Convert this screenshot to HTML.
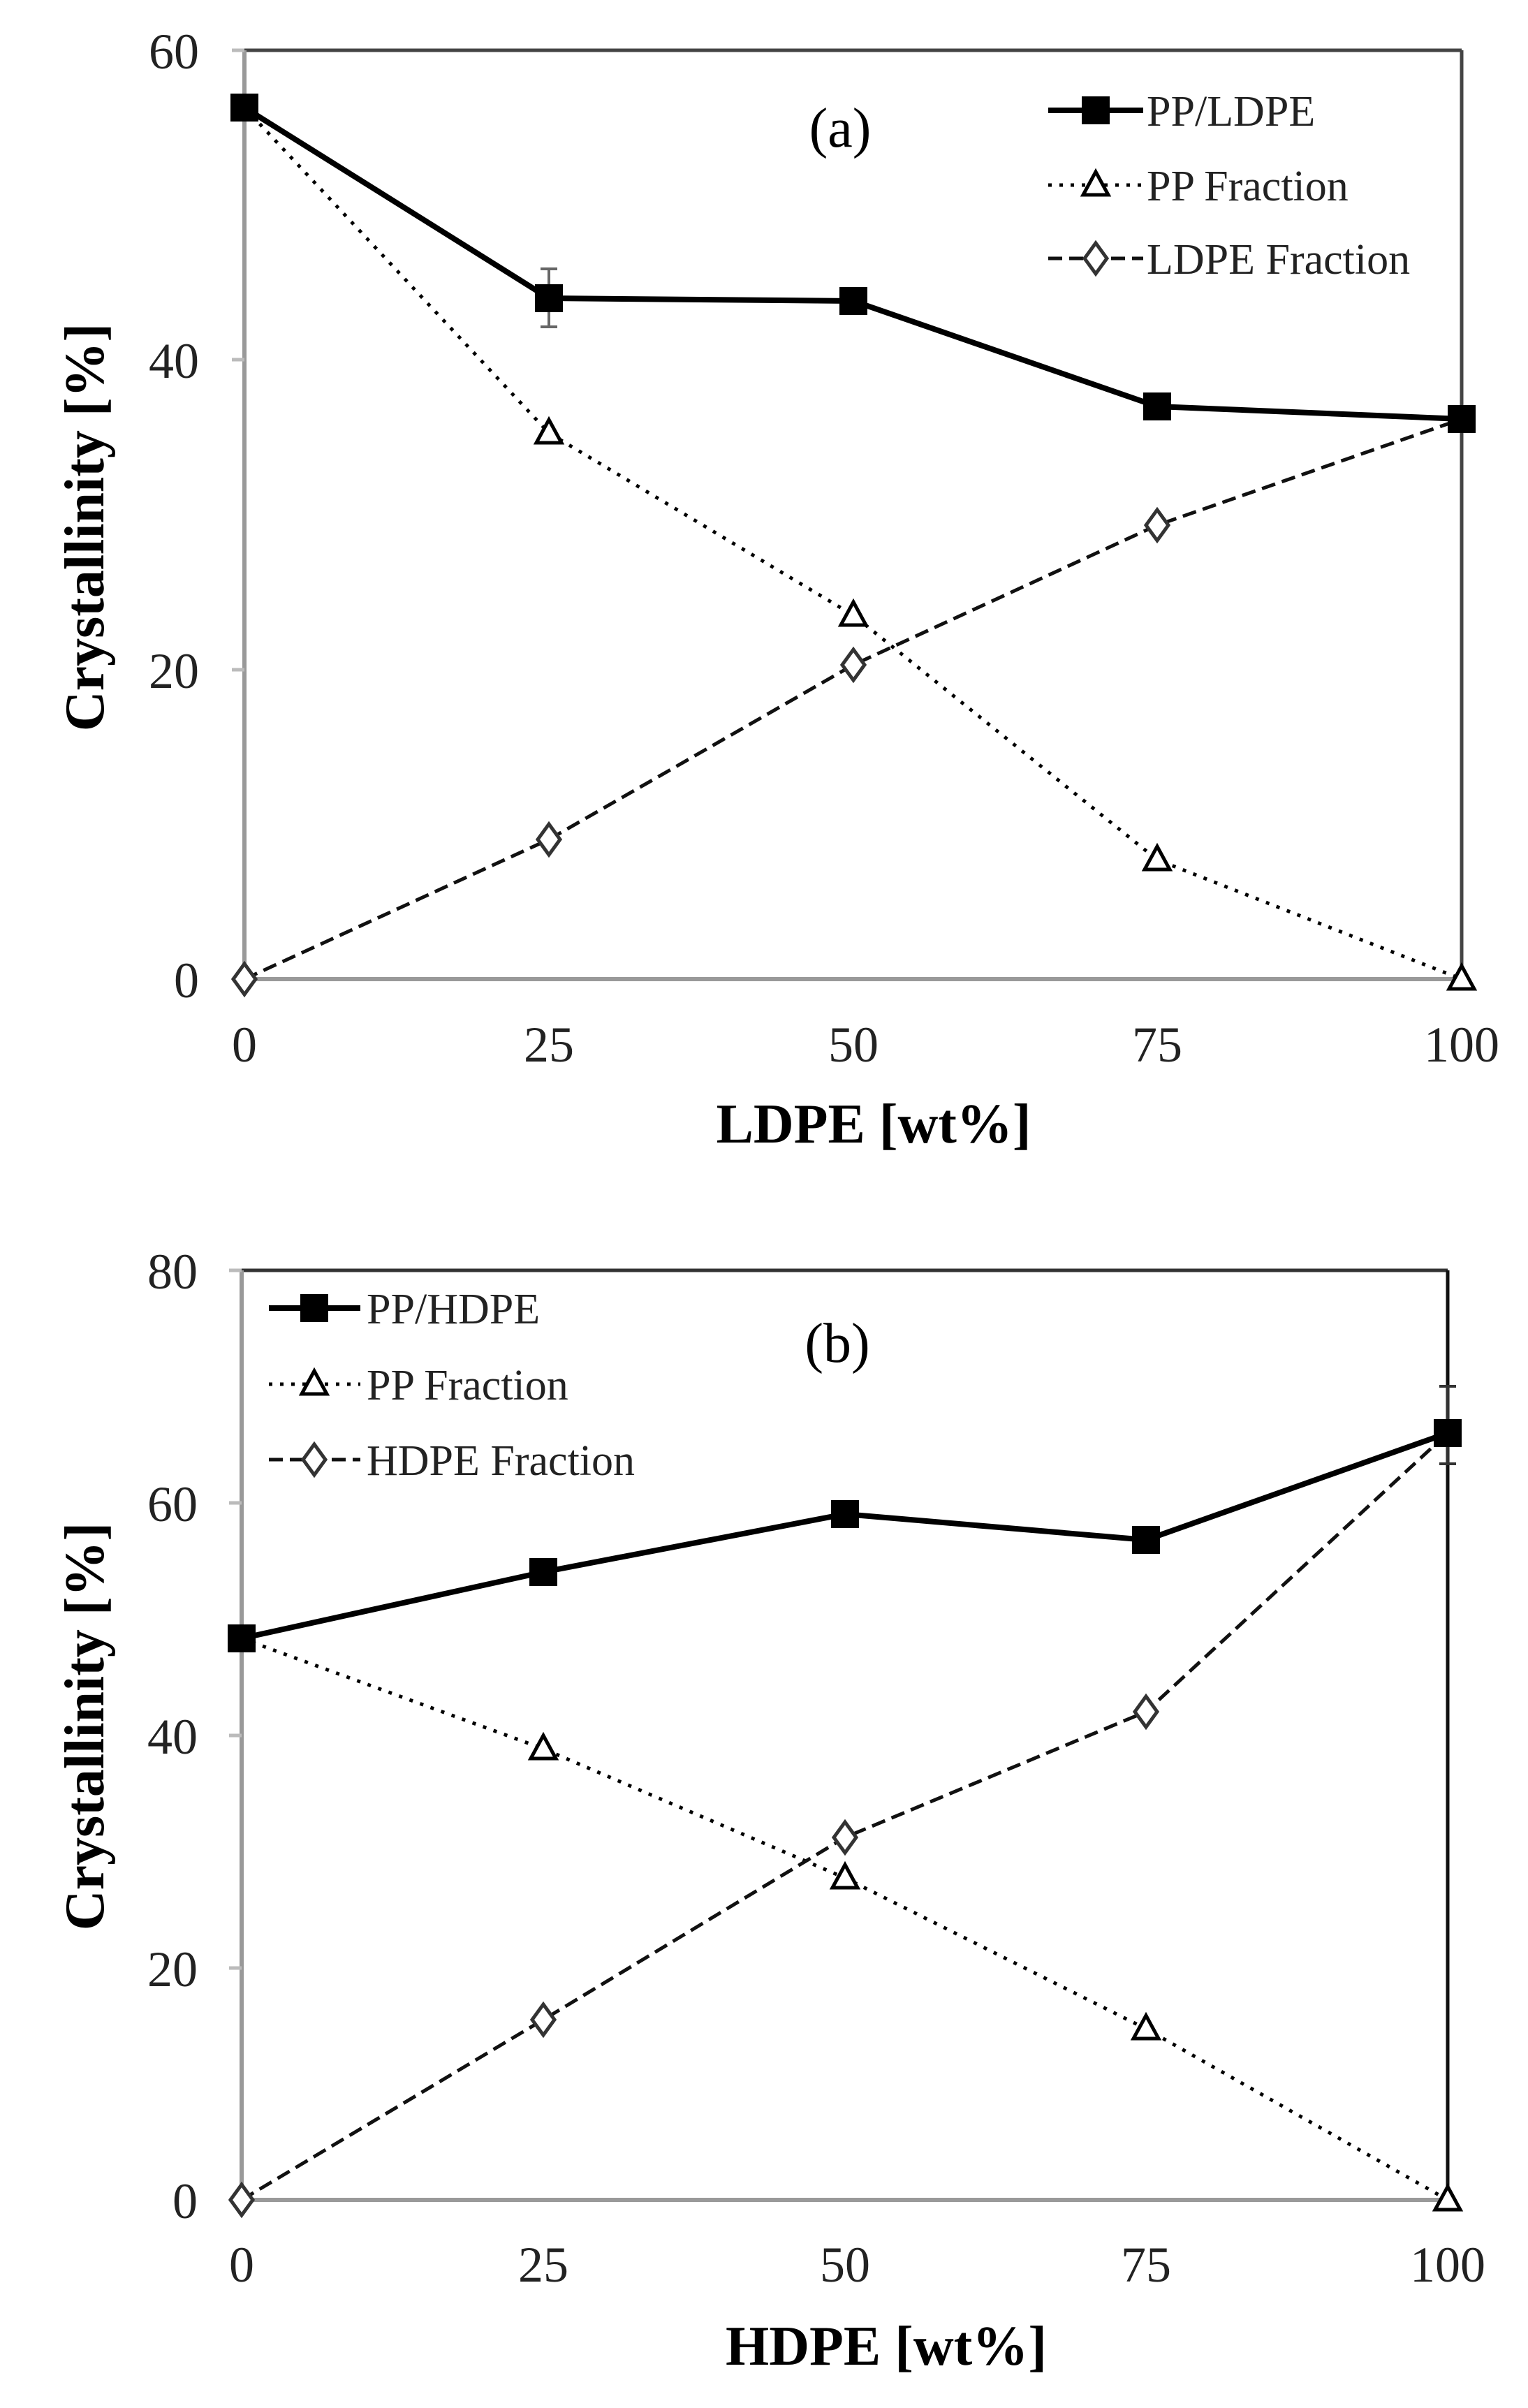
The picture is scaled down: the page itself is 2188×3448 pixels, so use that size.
<!DOCTYPE html>
<html><head><meta charset="utf-8"><style>html,body{margin:0;padding:0;background:#fff}svg{display:block}</style></head>
<body>
<svg width="2188" height="3448" viewBox="0 0 2188 3448" xmlns="http://www.w3.org/2000/svg" font-family="'Liberation Serif', serif">
<defs>
<g id="sq"><rect x="-20" y="-20" width="40" height="40" fill="#000"/></g>
<g id="tri"><polygon points="0,-19 18,14 -18,14" fill="#fff" stroke="#000" stroke-width="5"/></g>
<g id="dia"><polygon points="0,-22 16,0 0,22 -16,0" fill="#fff" stroke="#333" stroke-width="5"/></g>
</defs>

<!-- ===== Chart (a) ===== -->
<g>
<line x1="350" y1="72" x2="2093" y2="72" stroke="#444" stroke-width="5"/>
<line x1="2093" y1="72" x2="2093" y2="1402" stroke="#444" stroke-width="5"/>
<line x1="350" y1="72" x2="350" y2="1402" stroke="#999" stroke-width="6"/>
<line x1="350" y1="1402" x2="2093" y2="1402" stroke="#999" stroke-width="6"/>
<g stroke="#bbb" stroke-width="5"><line x1="332" y1="72" x2="350" y2="72"/><line x1="332" y1="515" x2="350" y2="515"/><line x1="332" y1="959" x2="350" y2="959"/><line x1="332" y1="1402" x2="350" y2="1402"/></g>
<g font-size="72" text-anchor="end" fill="#222">
<text x="285" y="98">60</text><text x="285" y="541">40</text><text x="285" y="985">20</text><text x="285" y="1428">0</text>
</g>
<g font-size="72" text-anchor="middle" fill="#222">
<text x="350" y="1520">0</text><text x="786" y="1520">25</text><text x="1222" y="1520">50</text><text x="1657" y="1520">75</text><text x="2093" y="1520">100</text>
</g>
<text x="1251" y="1636" font-size="80" font-weight="bold" text-anchor="middle">LDPE [wt%]</text>
<text transform="translate(148,755) rotate(-90)" font-size="80" font-weight="bold" text-anchor="middle">Crystallinity [%]</text>
<text x="1203" y="210" font-size="80" text-anchor="middle">(a)</text>

<g stroke="#666" stroke-width="4"><line x1="786" y1="385" x2="786" y2="468"/><line x1="774" y1="385" x2="798" y2="385"/><line x1="774" y1="468" x2="798" y2="468"/>
<line x1="1657" y1="570" x2="1657" y2="594"/><line x1="1645" y1="570" x2="1669" y2="570"/></g>

<polyline points="350,154 786,620 1222,881 1657,1231 2093,1402" fill="none" stroke="#000" stroke-width="5" stroke-dasharray="5 11"/>
<polyline points="350,1402 786,1202 1222,952 1657,752 2093,600" fill="none" stroke="#111" stroke-width="5" stroke-dasharray="20 10"/>
<polyline points="350,154 786,427 1222,431 1657,582 2093,600" fill="none" stroke="#000" stroke-width="8"/>
<use href="#tri" x="786" y="620"/><use href="#tri" x="1222" y="881"/><use href="#tri" x="1657" y="1231"/><use href="#tri" x="2093" y="1402"/>
<use href="#dia" x="350" y="1402"/><use href="#dia" x="786" y="1202"/><use href="#dia" x="1222" y="952"/><use href="#dia" x="1657" y="752"/>
<use href="#sq" x="350" y="154"/><use href="#sq" x="786" y="427"/><use href="#sq" x="1222" y="431"/><use href="#sq" x="1657" y="582"/><use href="#sq" x="2093" y="600"/>

<line x1="1501" y1="158" x2="1637" y2="158" stroke="#000" stroke-width="8"/><use href="#sq" x="1569" y="158"/>
<line x1="1501" y1="265" x2="1637" y2="265" stroke="#000" stroke-width="5" stroke-dasharray="5 11"/><use href="#tri" x="1569" y="265"/>
<line x1="1501" y1="370" x2="1637" y2="370" stroke="#111" stroke-width="5" stroke-dasharray="20 10"/><use href="#dia" x="1569" y="370"/>
<g font-size="62" fill="#222"><text x="1642" y="180">PP/LDPE</text><text x="1642" y="287">PP Fraction</text><text x="1642" y="392">LDPE Fraction</text></g>
</g>

<!-- ===== Chart (b) ===== -->
<g>
<line x1="346" y1="1819" x2="2073" y2="1819" stroke="#333" stroke-width="5"/>
<line x1="2073" y1="1819" x2="2073" y2="3150" stroke="#111" stroke-width="5"/>
<line x1="346" y1="1819" x2="346" y2="3150" stroke="#999" stroke-width="6"/>
<line x1="346" y1="3150" x2="2073" y2="3150" stroke="#999" stroke-width="6"/>
<g stroke="#bbb" stroke-width="5"><line x1="328" y1="1819" x2="346" y2="1819"/><line x1="328" y1="2152" x2="346" y2="2152"/><line x1="328" y1="2485" x2="346" y2="2485"/><line x1="328" y1="2818" x2="346" y2="2818"/><line x1="328" y1="3150" x2="346" y2="3150"/></g>
<g font-size="72" text-anchor="end" fill="#222">
<text x="283" y="1845">80</text><text x="283" y="2178">60</text><text x="283" y="2511">40</text><text x="283" y="2844">20</text><text x="283" y="3176">0</text>
</g>
<g font-size="72" text-anchor="middle" fill="#222">
<text x="346" y="3267">0</text><text x="778" y="3267">25</text><text x="1210" y="3267">50</text><text x="1641" y="3267">75</text><text x="2073" y="3267">100</text>
</g>
<text x="1269" y="3386" font-size="80" font-weight="bold" text-anchor="middle">HDPE [wt%]</text>
<text transform="translate(148,2472) rotate(-90)" font-size="80" font-weight="bold" text-anchor="middle">Crystallinity [%]</text>
<text x="1199" y="1950" font-size="80" text-anchor="middle">(b)</text>

<g stroke="#333" stroke-width="4"><line x1="2073" y1="1985" x2="2073" y2="2096"/><line x1="2061" y1="1985" x2="2085" y2="1985"/><line x1="2061" y1="2096" x2="2085" y2="2096"/></g>

<polyline points="346,2346 778,2504 1210,2689 1641,2905 2073,3150" fill="none" stroke="#000" stroke-width="5" stroke-dasharray="5 11"/>
<polyline points="346,3150 778,2892 1210,2631 1641,2451 2073,2052" fill="none" stroke="#111" stroke-width="5" stroke-dasharray="20 10"/>
<polyline points="346,2346 778,2251 1210,2168 1641,2205 2073,2052" fill="none" stroke="#000" stroke-width="8"/>
<use href="#tri" x="778" y="2504"/><use href="#tri" x="1210" y="2689"/><use href="#tri" x="1641" y="2905"/><use href="#tri" x="2073" y="3150"/>
<use href="#dia" x="346" y="3150"/><use href="#dia" x="778" y="2892"/><use href="#dia" x="1210" y="2631"/><use href="#dia" x="1641" y="2451"/>
<use href="#sq" x="346" y="2346"/><use href="#sq" x="778" y="2251"/><use href="#sq" x="1210" y="2168"/><use href="#sq" x="1641" y="2205"/><use href="#sq" x="2073" y="2052"/>

<line x1="385" y1="1873" x2="516" y2="1873" stroke="#000" stroke-width="8"/><use href="#sq" x="450" y="1873"/>
<line x1="385" y1="1982" x2="516" y2="1982" stroke="#000" stroke-width="5" stroke-dasharray="5 11"/><use href="#tri" x="450" y="1982"/>
<line x1="385" y1="2090" x2="516" y2="2090" stroke="#111" stroke-width="5" stroke-dasharray="20 10"/><use href="#dia" x="450" y="2090"/>
<g font-size="62" fill="#222"><text x="525" y="1895">PP/HDPE</text><text x="525" y="2004">PP Fraction</text><text x="525" y="2112">HDPE Fraction</text></g>
</g>
</svg>
</body></html>
